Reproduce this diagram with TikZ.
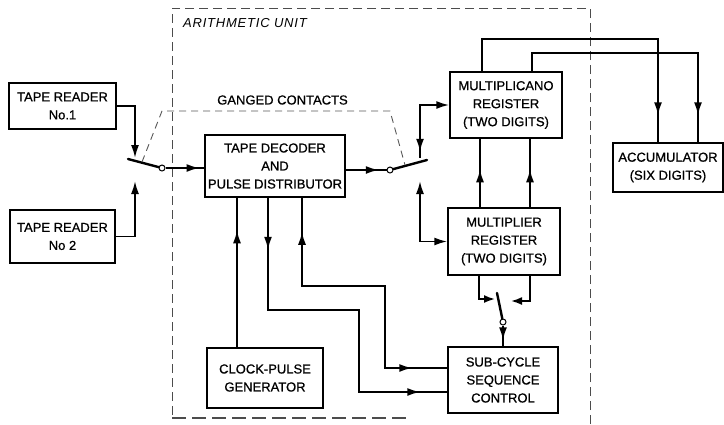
\documentclass[tikz,border=0pt]{standalone}
\usepackage{fontspec}
\setmainfont{Liberation Sans}
\usetikzlibrary{arrows.meta,decorations.markings,calc}
\tikzset{
  box/.style={draw, line width=1.5pt, inner sep=0pt, align=center,
    font=\fontsize{13}{18}\selectfont\addfontfeature{FakeBold=0.8}},
  conn/.style={line width=1.8pt, line join=miter},
  tip/.style={-{Latex[length=13pt,width=8pt]}},
  starttip/.style={{Latex[length=13pt,width=8pt]}-},
  bothtips/.style={{Latex[length=13pt,width=8pt]}-{Latex[length=13pt,width=8pt]}},
  fwdat/.style={postaction={decorate, decoration={markings,
    mark=at position #1 with {\arrow{Latex[length=13pt,width=8pt]}}}}},
  revat/.style={postaction={decorate, decoration={markings,
    mark=at position #1 with {\arrowreversed{Latex[length=13pt,width=8pt]}}}}},
  smalltip/.style={-{Latex[length=11pt,width=8pt]}},
  contact/.style={circle, draw, fill=white, line width=1pt, inner sep=0pt, minimum size=6pt},
  blade/.style={line width=2.4pt, line cap=round},
  unitline/.style={draw=black!70, line width=0.9pt, dash pattern=on 9pt off 5pt},
  gangline/.style={draw=black!65, line width=0.9pt, dash pattern=on 7pt off 5pt},
  lbl/.style={font=\fontsize{13}{16}\selectfont\addfontfeature{FakeBold=0.5}, inner sep=0pt}
}
\begin{document}
\begin{tikzpicture}[x=1pt, y=-1pt]
\useasboundingbox (0,0) rectangle (724,424);
\fill[white] (0,0) rectangle (724,424);

% arithmetic unit outline
\draw[unitline] (590,424) -- (590,8) -- (172,8) -- (172,418);
\draw[unitline, line width=1.6pt, dash pattern=on 14pt off 6pt] (172,418) -- (410,418);
\node[lbl, anchor=west, font=\fontsize{13}{16}\selectfont\itshape\addfontfeature{LetterSpace=6}] (au) at (183,23) {ARITHMETIC UNIT};

% boxes
\node[box, minimum width=107pt, minimum height=46pt] (tr1) at (62.5,106) {TAPE READER\\No.1};
\node[box, minimum width=105pt, minimum height=53pt] (tr2) at (62.5,236.5) {TAPE READER\\No 2};
\node[box, minimum width=140pt, minimum height=62pt] (dec) at (275,166) {TAPE DECODER\\AND\\PULSE DISTRIBUTOR};
\node[box, minimum width=112pt, minimum height=66pt] (mcand) at (506,105) {MULTIPLICANO\\REGISTER\\(TWO DIGITS)};
\node[box, minimum width=112pt, minimum height=67pt] (mplier) at (504,241.5) {MULTIPLIER\\REGISTER\\(TWO DIGITS)};
\node[box, minimum width=110pt, minimum height=49pt] (acc) at (668,167.5) {ACCUMULATOR\\(SIX DIGITS)};
\node[box, minimum width=116pt, minimum height=60pt] (clock) at (265,378) {CLOCK-PULSE\\GENERATOR};
\node[box, minimum width=110pt, minimum height=66pt] (sub) at (503,380) {SUB-CYCLE\\SEQUENCE\\CONTROL};

% switches
\node[contact] (sw1) at (162,168) {};
\node[contact] (sw2) at (390,170) {};
\node[contact] (sw3) at (503,322) {};
\coordinate (b1) at (128,159);
\coordinate (b2) at (427,160);
\coordinate (b3) at (497,293);
\draw[blade] (sw1) -- (b1);
\draw[blade] (sw2) -- (b2);
\draw[blade] (sw3) -- (b3);

% ganged contacts
\draw[gangline] (142,162) -- (162,111) -- (390,111) -- (405,165);
\node[lbl] (gang) at (282.5,100) {GANGED CONTACTS};

% tape readers to switch
\draw[conn, tip] (tr1.east) -- (135,106) -- (135,158);
\draw[conn, tip] (tr2.east) -- (135,236.5) -- (135,181);
\draw[conn, fwdat=34pt] (sw1) -- (sw1 -| dec.west);

% decoder to switch 2 and registers
\draw[conn, fwdat=33pt] (dec.east |- sw2) -- (sw2);
\draw[conn, starttip, fwdat=76pt] (mcand.west) -- (420,105) -- (420,158);
\draw[conn, bothtips] (mplier.west) -- (420,241.5) -- (420,181);

% multiplier to multiplicand
\draw[conn, fwdat=38pt] (mplier.north -| 480,0) -- (mcand.south -| 480,0);
\draw[conn, fwdat=38pt] (mplier.north -| 530,0) -- (mcand.south -| 530,0);

% multiplicand to accumulator
\draw[conn, fwdat=-27pt] (mcand.north -| 482,0) -- (482,39) -- (658,39) -- (acc.north -| 658,0);
\draw[conn, fwdat=-27pt] (mcand.north -| 532,0) -- (532,53) -- (698,53) -- (acc.north -| 698,0);

% multiplier to switch 3 to sub-cycle
\draw[conn, smalltip] (mplier.south -| 479,0) -- (479,299) -- (495,299);
\draw[conn, smalltip] (mplier.south -| 530,0) -- (530,301) -- (511,301);
\draw[conn, fwdat=-6pt] (sw3) -- (sw3 |- sub.north);

% clock and sub-cycle to decoder
\draw[conn, fwdat=117pt] (clock.north -| 237,0) -- (dec.south -| 237,0);
\draw[conn, fwdat=52pt, fwdat=-27pt] (dec.south -| 268,0) -- (268,310) -- (359,310) -- (359,392) -- (sub.west |- 0,392);
\draw[conn, revat=35pt, fwdat=-34pt] (sub.west |- 0,368) -- (385,368) -- (385,286) -- (302,286) -- (dec.south -| 302,0);

\end{tikzpicture}
\end{document}
